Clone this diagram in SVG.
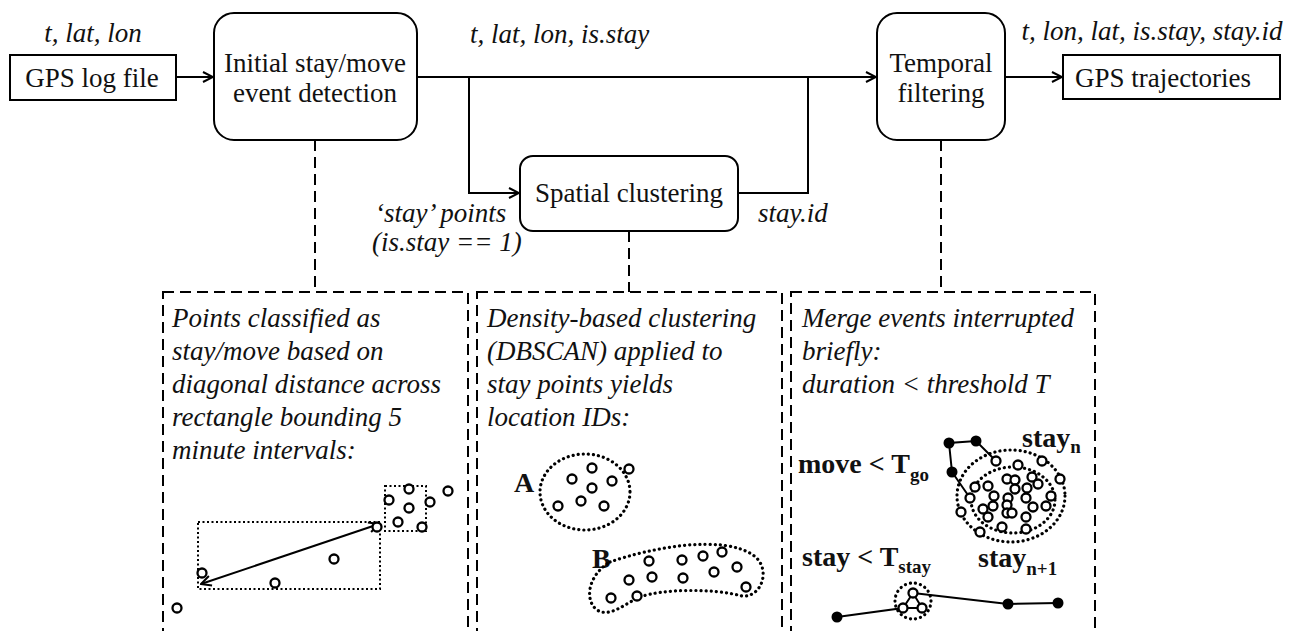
<svg xmlns="http://www.w3.org/2000/svg" width="1300" height="631" viewBox="0 0 1300 631">
<defs>
<marker id="arr" viewBox="0 0 12 12" refX="11" refY="6" markerWidth="12" markerHeight="12" markerUnits="userSpaceOnUse" orient="auto-start-reverse">
<path d="M1,1 L11,6 L1,11" fill="none" stroke="#000" stroke-width="2"/>
</marker>
<style>
.t{font-family:"Liberation Serif","Times New Roman",serif;font-size:27px;fill:#111}
.i{font-style:italic}
.b{font-weight:bold;font-size:28px}
.box{fill:#fff;stroke:#000;stroke-width:2}
.ln{fill:none;stroke:#000;stroke-width:2}
.dash{fill:none;stroke:#000;stroke-width:2;stroke-dasharray:11 6}
.dot{fill:none;stroke:#000;stroke-width:2;stroke-dasharray:2 2.5}
.dot2{fill:none;stroke:#000;stroke-width:3.2;stroke-linecap:round;stroke-dasharray:0.1 5}
.c{fill:#fff;stroke:#000;stroke-width:2.3}
.f{fill:#000}
</style>
</defs>
<rect width="1300" height="631" fill="#fff"/>

<g id="connectors">
<line class="ln" x1="176" y1="77" x2="213" y2="77" marker-end="url(#arr)"/>
<line class="ln" x1="417" y1="77" x2="876" y2="77" marker-end="url(#arr)"/>
<polyline class="ln" points="469,77 469,193 519,193" marker-end="url(#arr)"/>
<polyline class="ln" points="738,193 808,193 808,77"/>
<line class="ln" x1="1005" y1="77" x2="1062" y2="77" marker-end="url(#arr)"/>
<line class="dash" x1="315" y1="140" x2="315" y2="292"/>
<line class="dash" x1="629" y1="231" x2="629" y2="292"/>
<line class="dash" x1="941" y1="140" x2="941" y2="292"/>
</g>

<g id="gps-log">
<rect class="box" x="10" y="55" width="166" height="45"/>
<text class="t" x="92" y="87" text-anchor="middle">GPS log file</text>
<text class="t i" x="93" y="42" text-anchor="middle">t, lat, lon</text>
</g>

<g id="initial-detection">
<rect class="box" x="214" y="13" width="203" height="127" rx="20"/>
<text class="t" x="315" y="72" text-anchor="middle">Initial stay/move</text>
<text class="t" x="315" y="102" text-anchor="middle">event detection</text>
</g>

<text class="t i" x="470" y="43">t, lat, lon, is.stay</text>

<g id="spatial-clustering">
<rect class="box" x="520" y="156" width="218" height="75" rx="13"/>
<text class="t" x="629" y="202" text-anchor="middle">Spatial clustering</text>
</g>
<text class="t i" x="375" y="222">‘stay’ points</text>
<text class="t i" x="372" y="251">(is.stay == 1)</text>
<text class="t i" x="758" y="222">stay.id</text>

<g id="temporal-filtering">
<rect class="box" x="877" y="13" width="128" height="127" rx="20"/>
<text class="t" x="941" y="72" text-anchor="middle">Temporal</text>
<text class="t" x="941" y="102" text-anchor="middle">filtering</text>
</g>

<g id="gps-trajectories">
<rect class="box" x="1063" y="55" width="217" height="44"/>
<text class="t" x="1163" y="87" text-anchor="middle">GPS trajectories</text>
<text class="t i" x="1152" y="40" text-anchor="middle">t, lon, lat, is.stay, stay.id</text>
</g>

<g id="panel-detection">
<rect class="dash" x="163" y="292" width="305" height="370"/>
<text class="t i" x="172" y="327">Points classified as</text>
<text class="t i" x="172" y="360">stay/move based on</text>
<text class="t i" x="172" y="393">diagonal distance across</text>
<text class="t i" x="172" y="426">rectangle bounding 5</text>
<text class="t i" x="172" y="459">minute intervals:</text>
<rect class="dot" x="198" y="522" width="182" height="67"/>
<rect class="dot" x="385" y="486" width="41" height="45"/>
<line class="ln" x1="201" y1="584" x2="379" y2="524" marker-start="url(#arr)" marker-end="url(#arr)"/>
<circle class="c" cx="202" cy="573" r="4.5"/>
<circle class="c" cx="275" cy="583" r="4.5"/>
<circle class="c" cx="334" cy="559" r="4.5"/>
<circle class="c" cx="377" cy="527" r="4.5"/>
<circle class="c" cx="409" cy="489" r="4.5"/>
<circle class="c" cx="389" cy="500" r="4.5"/>
<circle class="c" cx="409" cy="508" r="4.5"/>
<circle class="c" cx="398" cy="522" r="4.5"/>
<circle class="c" cx="422" cy="527" r="4.5"/>
<circle class="c" cx="430" cy="502" r="4.5"/>
<circle class="c" cx="448" cy="491" r="4.5"/>
<circle class="c" cx="177" cy="608" r="4.5"/>
</g>

<g id="panel-clustering">
<rect class="dash" x="477" y="292" width="305" height="370"/>
<text class="t i" x="487" y="327">Density-based clustering</text>
<text class="t i" x="487" y="360">(DBSCAN) applied to</text>
<text class="t i" x="487" y="393">stay points yields</text>
<text class="t i" x="487" y="426">location IDs:</text>
<text class="t b" x="514" y="492" font-size="27">A</text>
<ellipse class="dot2" cx="585" cy="492" rx="45" ry="38"/>
<circle class="c" cx="592" cy="468" r="4.5"/>
<circle class="c" cx="629" cy="469" r="4.5"/>
<circle class="c" cx="572" cy="479" r="4.5"/>
<circle class="c" cx="612" cy="481" r="4.5"/>
<circle class="c" cx="592" cy="488" r="4.5"/>
<circle class="c" cx="558" cy="506" r="4.5"/>
<circle class="c" cx="581" cy="501" r="4.5"/>
<circle class="c" cx="604" cy="506" r="4.5"/>
<text class="t b" x="592" y="568">B</text>
<path class="dot2" d="M610,562 C650,548 722,534 753,555 C772,568 762,598 742,596 C712,588 662,589 640,597 C624,604 610,618 597,610 C584,600 588,575 610,562 Z"/>
<circle class="c" cx="649" cy="561" r="4.5"/>
<circle class="c" cx="682" cy="560" r="4.5"/>
<circle class="c" cx="703" cy="556" r="4.5"/>
<circle class="c" cx="722" cy="552" r="4.5"/>
<circle class="c" cx="737" cy="567" r="4.5"/>
<circle class="c" cx="714" cy="572" r="4.5"/>
<circle class="c" cx="629" cy="580" r="4.5"/>
<circle class="c" cx="652" cy="577" r="4.5"/>
<circle class="c" cx="683" cy="578" r="4.5"/>
<circle class="c" cx="746" cy="587" r="4.5"/>
<circle class="c" cx="611" cy="598" r="4.5"/>
<circle class="c" cx="637" cy="596" r="4.5"/>
</g>

<g id="panel-temporal">
<rect class="dash" x="791" y="292" width="304" height="370"/>
<text class="t i" x="802" y="327">Merge events interrupted</text>
<text class="t i" x="802" y="360">briefly:</text>
<text class="t i" x="802" y="393">duration &lt; threshold T</text>
<text class="t b" x="798" y="473">move &lt; T<tspan font-size="19" dy="8">go</tspan></text>
<text class="t b" x="1022" y="447">stay<tspan font-size="19" dy="6">n</tspan></text>
<text class="t b" x="802" y="566">stay &lt; T<tspan font-size="19" dy="7">stay</tspan></text>
<text class="t b" x="978" y="567">stay<tspan font-size="19" dy="8">n+1</tspan></text>
<ellipse class="dot2" cx="1011" cy="496" rx="54" ry="46"/>
<ellipse class="dot2" cx="1013" cy="500" rx="42" ry="33"/>
<polyline class="ln" points="996,461 976,441 949,443 952,472 970,498" stroke-width="1.5"/>
<circle class="f" cx="949" cy="443" r="5.5"/>
<circle class="f" cx="976" cy="441" r="5.5"/>
<circle class="f" cx="952" cy="472" r="5.5"/>
<g>
<circle class="c" cx="996" cy="461" r="4.5"/>
<circle class="c" cx="1018" cy="465" r="4.5"/>
<circle class="c" cx="1042" cy="461" r="4.5"/>
<circle class="c" cx="1060" cy="479" r="4.5"/>
<circle class="c" cx="975" cy="487" r="4.5"/>
<circle class="c" cx="970" cy="498" r="4.5"/>
<circle class="c" cx="988" cy="486" r="4.5"/>
<circle class="c" cx="1007" cy="479" r="4.5"/>
<circle class="c" cx="1015" cy="480" r="4.5"/>
<circle class="c" cx="1032" cy="477" r="4.5"/>
<circle class="c" cx="1038" cy="484" r="4.5"/>
<circle class="c" cx="994" cy="496" r="4.5"/>
<circle class="c" cx="1015" cy="489" r="4.5"/>
<circle class="c" cx="1027" cy="488" r="4.5"/>
<circle class="c" cx="1008" cy="498" r="4.5"/>
<circle class="c" cx="1026" cy="498" r="4.5"/>
<circle class="c" cx="1051" cy="496" r="4.5"/>
<circle class="c" cx="993" cy="506" r="4.5"/>
<circle class="c" cx="1007" cy="505" r="4.5"/>
<circle class="c" cx="1033" cy="507" r="4.5"/>
<circle class="c" cx="1046" cy="506" r="4.5"/>
<circle class="c" cx="961" cy="512" r="4.5"/>
<circle class="c" cx="983" cy="509" r="4.5"/>
<circle class="c" cx="988" cy="517" r="4.5"/>
<circle class="c" cx="1007" cy="513" r="4.5"/>
<circle class="c" cx="1012" cy="513" r="4.5"/>
<circle class="c" cx="1026" cy="517" r="4.5"/>
<circle class="c" cx="1002" cy="527" r="4.5"/>
<circle class="c" cx="1026" cy="529" r="4.5"/>
<circle class="c" cx="980" cy="532" r="4.5"/>
</g>
<circle class="dot2" cx="913" cy="601" r="18"/>
<polyline class="ln" points="837,617 903,608 913,593 922,608 903,608" stroke-width="1.5"/>
<polyline class="ln" points="913,593 1008,604 1058,603" stroke-width="1.5"/>
<circle class="c" cx="913" cy="593" r="4.5"/>
<circle class="c" cx="903" cy="608" r="4.5"/>
<circle class="c" cx="922" cy="608" r="4.5"/>
<circle class="f" cx="837" cy="617" r="5.5"/>
<circle class="f" cx="1008" cy="604" r="5.5"/>
<circle class="f" cx="1058" cy="603" r="5.5"/>
</g>
</svg>
